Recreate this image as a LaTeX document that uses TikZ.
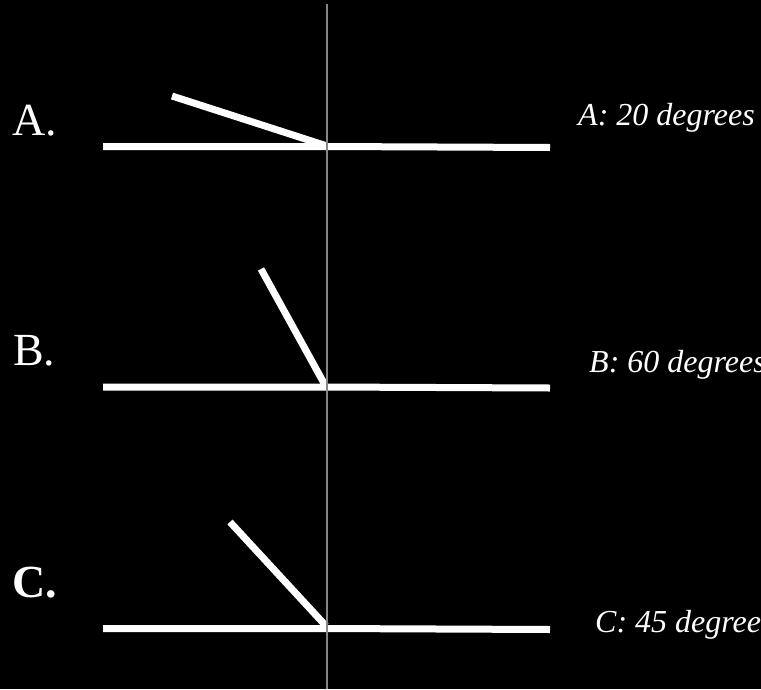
\documentclass[tikz,border=0pt]{standalone}
\usepackage{fontspec}
\setmainfont{Liberation Serif}
\begin{document}
\begin{tikzpicture}[x=1pt,y=-1pt,
  seg/.style={draw=white,line width=7pt,line cap=butt},
  axis/.style={draw=gray!95,line width=1.8pt},
  letter/.style={text=white,font=\fontsize{46}{50}\selectfont,anchor=base west,inner sep=0pt},
  angtext/.style={text=white,font=\fontsize{32}{36}\selectfont\itshape,anchor=base west,inner sep=0pt}]
\fill[black] (0,0) rectangle (761,689);
\useasboundingbox (0,0) rectangle (761,689);
% labels
\node[letter] (la) at (12,135) {A.};
\node[letter] (lb) at (13,365) {B.};
\node[letter] (lc) at (12,597) {\bfseries C.};
\node[angtext] (ta) at (578,125) {A: 20 degrees};
\node[angtext] (tb) at (589,372) {B: 60 degrees};
\node[angtext] (tc) at (595,632) {C: 45 degrees};
% coordinates
\coordinate (a0) at (103,146.5);
\coordinate (a1) at (327,146.5);
\coordinate (a2) at (550,147.5);
\coordinate (a3) at (172,96);
\coordinate (b0) at (103,387);
\coordinate (b1) at (325,387);
\coordinate (b2) at (550,388);
\coordinate (b3) at (261,269);
\coordinate (c0) at (103,628.5);
\coordinate (c1) at (326,628.5);
\coordinate (c2) at (550,629.5);
\coordinate (c3) at (230,522);
\coordinate (vt) at (327,4);
\coordinate (vb) at (327,689);
% lines
\draw[seg] (a0) -- (a1) -- (a2);
\draw[seg] (a3) -- (327,146);
\draw[seg] (b0) -- (b1) -- (b2);
\draw[seg] (b3) -- (325,385);
\draw[seg] (c0) -- (c1) -- (c2);
\draw[seg] (c3) -- (326,626);
\draw[axis] (vt) -- (vb);
\end{tikzpicture}
\end{document}
